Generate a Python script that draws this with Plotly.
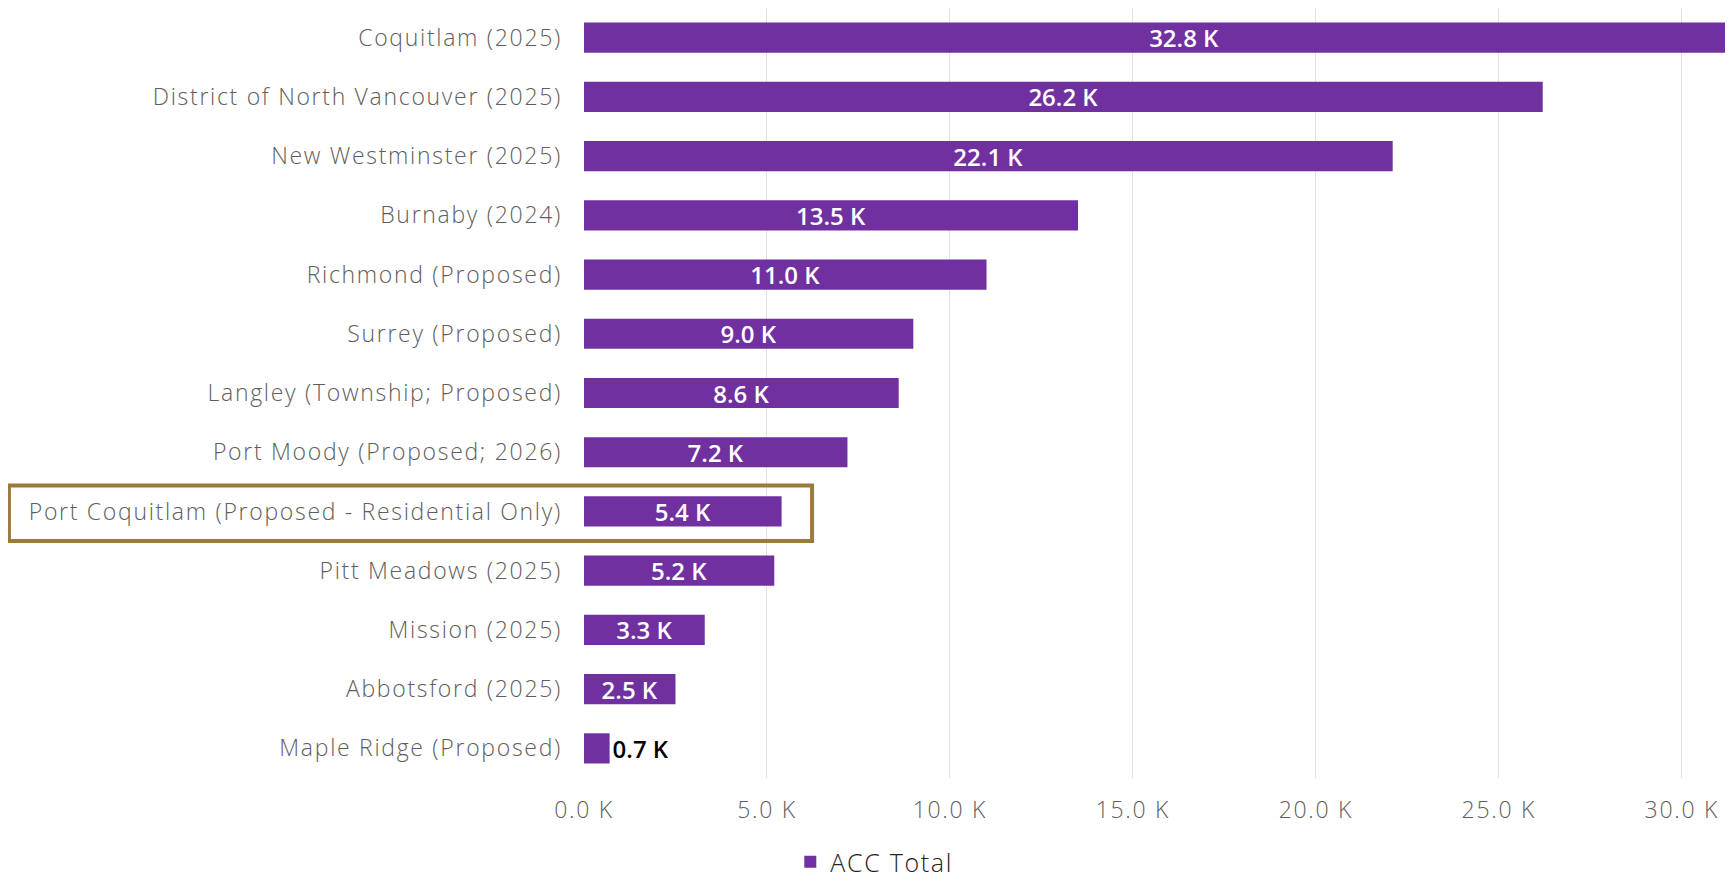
import plotly.graph_objects as go

categories = [
    "Coquitlam (2025)",
    "District of North Vancouver (2025)",
    "New Westminster (2025)",
    "Burnaby (2024)",
    "Richmond (Proposed)",
    "Surrey (Proposed)",
    "Langley (Township; Proposed)",
    "Port Moody (Proposed; 2026)",
    "Port Coquitlam (Proposed - Residential Only)",
    "Pitt Meadows (2025)",
    "Mission (2025)",
    "Abbotsford (2025)",
    "Maple Ridge (Proposed)",
]
acc_total = [32800, 26200, 22100, 13500, 11000, 9000, 8600, 7200, 5400, 5200, 3300, 2500, 700]
tick_values = [0, 5000, 10000, 15000, 20000, 25000, 30000]
tick_labels = ["0.0 K", "5.0 K", "10.0 K", "15.0 K", "20.0 K", "25.0 K", "30.0 K"]
series_name = "ACC Total"
highlight = "Port Coquitlam (Proposed - Residential Only)"

labels = [f"{v/1000:.1f} K" for v in acc_total]


def spaced(s, px=1.7):
    return f'<span style="letter-spacing:{px}px">{s}</span>'


PURPLE = "#7030A0"
GREY = "#605E5C"
FONT = "Open Sans"

fig = go.Figure()
fig.add_trace(go.Bar(
    x=acc_total, y=categories, orientation="h",
    name=spaced(series_name),
    marker=dict(color=PURPLE, line=dict(width=0)),
    text=labels, textposition="auto", insidetextanchor="middle",
    insidetextfont=dict(color="white", size=24, family=FONT, weight=600),
    outsidetextfont=dict(color="black", size=24, family=FONT, weight=600),
    textangle=0,
    constraintext="none",
    cliponaxis=True,
))

hi = categories.index(highlight)
fig.add_shape(type="rect", xref="paper", yref="y",
              x0=-0.5005, x1=0.1985, y0=hi - 0.44, y1=hi + 0.50,
              line=dict(color="#9C7A3C", width=4), fillcolor="rgba(0,0,0,0)",
              layer="above")

fig.update_layout(
    width=1725, height=877,
    margin=dict(l=576, r=0, t=0, b=107),
    plot_bgcolor="white", paper_bgcolor="white",
    bargap=0.49,
    showlegend=True,
    legend=dict(orientation="h", xref="container", yref="container",
                x=0.4535, xanchor="left", y=-0.012, yanchor="bottom",
                font=dict(size=25, color="#252423", family=FONT, weight=300)),
    font=dict(family=FONT),
)
fig.update_xaxes(range=[0, 31400], tickvals=tick_values,
                 ticktext=[spaced(t) for t in tick_labels],
                 showgrid=True, gridcolor="#E1E1E1", gridwidth=1, zeroline=False,
                 showline=False, ticks="", automargin=False,
                 tickfont=dict(size=23, color=GREY, family=FONT, weight=300),
                 ticklabelstandoff=16)
fig.update_yaxes(autorange="reversed", showgrid=False, showline=False, ticks="",
                 automargin=False, tickvals=categories,
                 ticktext=[spaced(c) for c in categories],
                 tickfont=dict(size=23, color=GREY, family=FONT, weight=300),
                 ticklabelstandoff=21)

fig.write_html("out.html")
